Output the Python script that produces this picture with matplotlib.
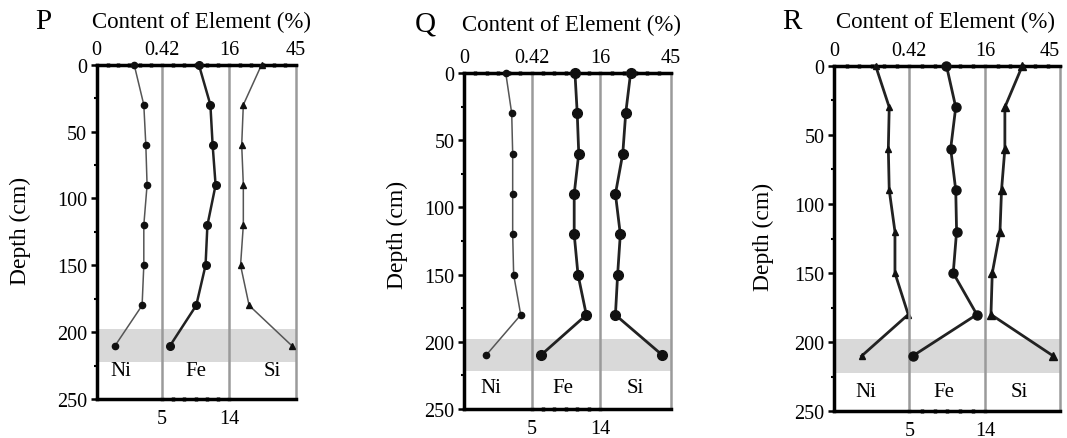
import matplotlib
matplotlib.use("Agg")
import matplotlib.pyplot as plt
import matplotlib.transforms as mtransforms

plt.rcParams['font.family'] = ['Liberation Serif', 'DejaVu Serif']

# ---------------- data ----------------
depth = [0, 30, 60, 90, 120, 150, 180, 210]

p_ni = [0.241, 0.303, 0.316, 0.324, 0.303, 0.303, 0.292, 0.119]
p_fe = [9.95, 11.5, 11.8, 12.2, 11.1, 10.85, 9.6, 6.1]
p_si = [30.1, 22.2, 21.5, 22.2, 22.2, 21.0, 24.7, 43.1]

q_ni = [0.259, 0.296, 0.302, 0.302, 0.302, 0.308, 0.352, 0.137]
q_fe = [10.7, 11.0, 11.2, 10.6, 10.6, 11.1, 12.2, 6.2]
q_si = [28.5, 26.5, 25.3, 22.3, 24.3, 23.2, 22.3, 41.5]

r_ni = [0.232, 0.308, 0.303, 0.308, 0.340, 0.340, 0.414, 0.154]
r_fe = [9.4, 10.5, 9.9, 10.5, 10.6, 10.2, 13.0, 5.4]
r_si = [30.4, 23.6, 23.6, 22.3, 21.7, 18.7, 18.2, 42.4]

elements = ['Ni', 'Fe', 'Si']
col_ranges = [(0, 0.42), (5, 14), (16, 45)]
top_tick_labels = [['0', '0.42'], None, ['16', '45']]
bottom_tick_labels = [None, ['5', '14'], None]
depth_ticks = [0, 50, 100, 150, 200, 250]
band = (198, 222)
panel_names = ['P', 'Q', 'R']
title = 'Content of Element (%)'
ylabel = 'Depth (cm)'

# ---------------- layout ----------------
W, H = 1067, 439
fig = plt.figure(figsize=(W / 100, H / 100), dpi=100)


def box(x0, x1, ytop, ybot):
    return [x0 / W, 1 - ybot / H, (x1 - x0) / W, (ybot - ytop) / H]


panels = [
    dict(vals=(p_ni, p_fe, p_si), xs=(96.7, 162, 229, 296), top=65.7, bot=400,
         markers=('o', 'o', '^'), ms=(4.5, 5.5, 5), lw=(1.1, 1.8, 1.1),
         lc=('#555555', '#222222', '#555555'),
         letter=(43, 22), title=(201, 22), ylab=(20, 231),
         lab_x=(0.37, 0.5, 0.65), lab_y=229, last_ha='center'),
    dict(vals=(q_ni, q_fe, q_si), xs=(464, 531.7, 600, 671), top=74, bot=410,
         markers=('o', 'o', 'o'), ms=(4.5, 7, 7), lw=(1.1, 2.0, 2.0),
         lc=('#555555', '#222222', '#222222'),
         letter=(425, 25), title=(572, 25), ylab=(397, 235),
         lab_x=(0.39, 0.45, 0.49), lab_y=234, last_ha='center'),
    dict(vals=(r_ni, r_fe, r_si), xs=(834, 909.3, 985.3, 1060), top=66.7, bot=412.3,
         markers=('^', 'o', '^'), ms=(5, 6.5, 5.5), lw=(2.0, 2.0, 2.0),
         lc=('#222222', '#222222', '#222222'),
         letter=(792, 22), title=(946, 22), ylab=(763, 237),
         lab_x=(0.42, 0.46, 0.46), lab_y=236, last_ha='right'),
]

grey = '#9a9a9a'

for name, pn in zip(panel_names, panels):
    for i in range(3):
        ax = fig.add_axes(box(pn['xs'][i], pn['xs'][i + 1], pn['top'], pn['bot']))
        lo, hi = col_ranges[i]
        ax.set_xlim(lo, hi)
        ax.set_ylim(250, 0)
        ax.axhspan(band[0], band[1], color='#d9d9d9', lw=0, zorder=0)
        ax.plot(pn['vals'][i], depth, color=pn['lc'][i], lw=pn['lw'][i],
                marker=pn['markers'][i], ms=pn['ms'][i], mfc='#111111', mec='#111111',
                clip_on=False, zorder=3)
        ax.text(pn['lab_x'][i], pn['lab_y'], elements[i], fontsize=15,
                ha='center', va='center',
                transform=mtransforms.blended_transform_factory(ax.transAxes, ax.transData))

        # spines
        for s in ('top', 'bottom'):
            ax.spines[s].set_color('black')
            ax.spines[s].set_linewidth(2.5)
        if i == 0:
            ax.spines['left'].set_color('black')
            ax.spines['left'].set_linewidth(2.5)
        else:
            ax.spines['left'].set_color(grey)
            ax.spines['left'].set_linewidth(1.8)
        if i == 2:
            ax.spines['right'].set_color(grey)
            ax.spines['right'].set_linewidth(1.8)
        else:
            ax.spines['right'].set_visible(False)

        # x ticks
        step = (hi - lo) / 6
        minors = [lo + step * k for k in range(1, 6)]
        ax.set_xticks([lo, hi])
        ax.set_xticks(minors, minor=True)
        if top_tick_labels[i] is not None:
            ax.set_xticklabels(top_tick_labels[i])
            ax.tick_params(axis='x', which='major', top=True, labeltop=True,
                           bottom=False, labelbottom=False, labelsize=14.5,
                           length=2, width=2.5, direction='inout', pad=3)
            ax.tick_params(axis='x', which='minor', top=True, bottom=False,
                           length=2.5, width=2.5, direction='inout')
            if i == 2:
                for t in ax.xaxis.get_majorticklabels():
                    pass
                labs = ax.xaxis.get_ticklabels(which='major')
                labs[-1].set_horizontalalignment(pn['last_ha'])
        else:
            ax.set_xticklabels(bottom_tick_labels[i])
            ax.tick_params(axis='x', which='major', top=True, labeltop=False,
                           bottom=True, labelbottom=True, labelsize=14.5,
                           length=2, width=2.5, direction='inout', pad=6)
            ax.tick_params(axis='x', which='minor', top=True, bottom=True,
                           length=2.5, width=2.5, direction='inout')

        # y ticks
        if i == 0:
            ax.set_yticks(depth_ticks)
            ax.set_yticks([25, 75, 125, 175, 225], minor=True)
            ax.tick_params(axis='y', which='major', left=True, labelleft=True,
                           right=False, length=4, width=1.8, direction='out',
                           labelsize=14.5, pad=3)
            ax.tick_params(axis='y', which='minor', left=True, right=False,
                           length=2.5, width=1.5, direction='out')
        else:
            ax.set_yticks([])
            ax.tick_params(axis='y', which='both', left=False, right=False,
                           labelleft=False)
        ax.set_facecolor('none')

    fig.text(pn['letter'][0] / W, 1 - pn['letter'][1] / H, name, fontsize=21,
             ha='center', va='center')
    fig.text(pn['title'][0] / W, 1 - pn['title'][1] / H, title, fontsize=16.5,
             ha='center', va='center')
    fig.text(pn['ylab'][0] / W, 1 - pn['ylab'][1] / H, ylabel, fontsize=17,
             ha='center', va='center', rotation=90)

fig.savefig('out.png', dpi=100)
